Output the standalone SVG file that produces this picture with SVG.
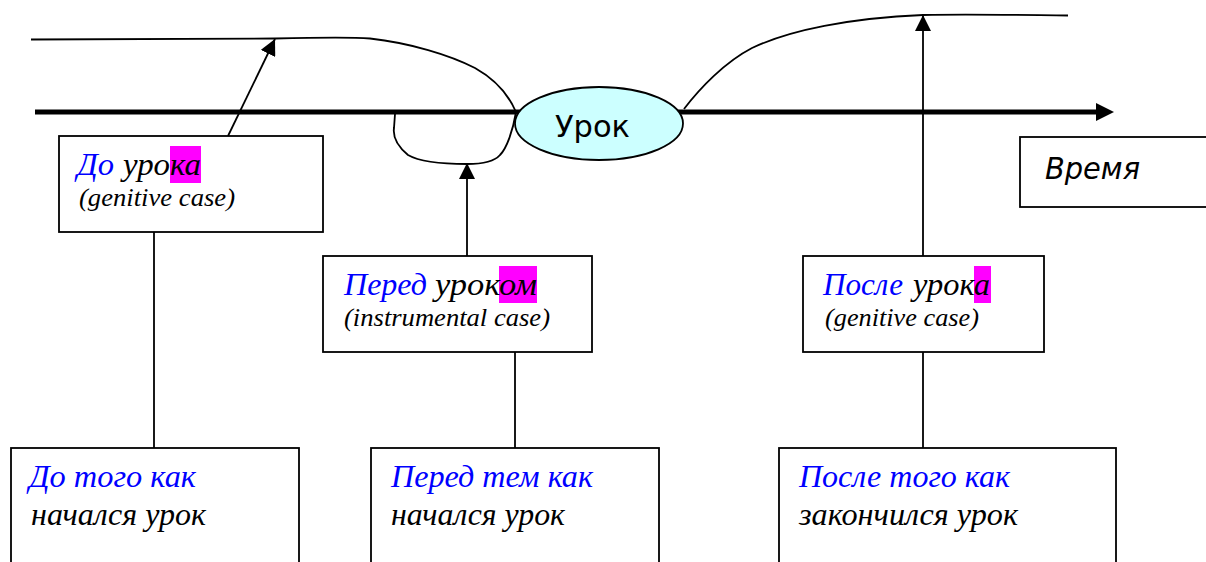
<svg xmlns="http://www.w3.org/2000/svg" width="1206" height="562" viewBox="0 0 1206 562">
<style>
.box{fill:#fff;stroke:#000;stroke-width:1.8}
.ln{fill:none;stroke:#000;stroke-width:1.8}
.axis{fill:none;stroke:#000;stroke-width:5}
.ser{font-family:"Liberation Serif","Times New Roman",serif;font-style:italic}
.big{font-size:32px}
.sub{font-size:26px}
.blue{fill:#0000ff}
.blk{fill:#000}
.hl{fill:#ff00ff}
.sans{font-family:"DejaVu Sans",Verdana,sans-serif;fill:#000}
</style>
<defs>
<marker id="ah" viewBox="0 0 16 16" refX="16" refY="8" markerWidth="16" markerHeight="16" markerUnits="userSpaceOnUse" orient="auto">
<path d="M0,0 L16,8 L0,16 z" fill="#000"/>
</marker>
</defs>
<rect width="1206" height="562" fill="#fff"/>
<g id="connectors">
<line class="axis" x1="35" y1="112" x2="1098" y2="112"/>
<polygon points="1096,103 1114,112 1096,121" fill="#000"/>
<path class="ln" d="M31,39.5 L275,38.5 C320,37.5 350,37 370,38.5 C410,43 450,55 475,68 C500,82 510,98 516,112 C513,130 507,148 500,155 C494,162 482,164 467,164 C445,164 420,162 408,155 C396,145 393,135 394,128 L395,114"/>
<path class="ln" d="M684,109 C700,88 725,62 752,48 C790,30 850,18 923,15 C970,14 1020,15 1068,15.5"/>
<line class="ln" x1="228" y1="136" x2="275" y2="39" marker-end="url(#ah)"/>
<line class="ln" x1="467" y1="256" x2="467" y2="163" marker-end="url(#ah)"/>
<line class="ln" x1="923" y1="256" x2="923" y2="15" marker-end="url(#ah)"/>
<line class="ln" x1="154" y1="232" x2="154" y2="448"/>
<line class="ln" x1="515" y1="352" x2="515" y2="448"/>
<line class="ln" x1="923" y1="352" x2="923" y2="448"/>
</g>
<g id="lesson">
<ellipse cx="599" cy="123.5" rx="84" ry="36.5" fill="#ccffff" stroke="#000" stroke-width="1.8"/>
<text class="sans" x="555" y="137" font-size="31" textLength="75" lengthAdjust="spacingAndGlyphs">Урок</text>
</g>
<g id="time">
<rect class="box" x="1020" y="137" width="200" height="70"/>
<text class="sans" x="1045" y="179" font-size="30" font-style="italic" textLength="95" lengthAdjust="spacingAndGlyphs">Время</text>
</g>
<g id="do-uroka">
<rect class="box" x="59" y="136" width="264" height="96"/>
<rect class="hl" x="170" y="146" width="31" height="37"/>
<text class="ser big blue" x="77" y="175" textLength="37" lengthAdjust="spacingAndGlyphs">До</text>
<text class="ser big blk" x="123" y="175" textLength="78" lengthAdjust="spacingAndGlyphs">урока</text>
<text class="ser sub blk" x="79" y="206" textLength="156" lengthAdjust="spacingAndGlyphs">(genitive case)</text>
</g>
<g id="pered-urokom">
<rect class="box" x="323" y="256" width="269" height="96"/>
<rect class="hl" x="499" y="266" width="38" height="37"/>
<text class="ser big blue" x="344" y="295" textLength="83" lengthAdjust="spacingAndGlyphs">Перед</text>
<text class="ser big blk" x="435" y="295" textLength="102" lengthAdjust="spacingAndGlyphs">уроком</text>
<text class="ser sub blk" x="344" y="326" textLength="206" lengthAdjust="spacingAndGlyphs">(instrumental case)</text>
</g>
<g id="posle-uroka">
<rect class="box" x="803" y="256" width="241" height="96"/>
<rect class="hl" x="974" y="266" width="17" height="37"/>
<text class="ser big blue" x="823" y="295" textLength="80" lengthAdjust="spacingAndGlyphs">После</text>
<text class="ser big blk" x="913" y="295" textLength="77" lengthAdjust="spacingAndGlyphs">урока</text>
<text class="ser sub blk" x="825" y="326" textLength="154" lengthAdjust="spacingAndGlyphs">(genitive case)</text>
</g>
<g id="do-togo-kak">
<rect class="box" x="11" y="448" width="288" height="140"/>
<text class="ser big blue" x="29" y="487" textLength="167" lengthAdjust="spacingAndGlyphs">До того как</text>
<text class="ser big blk" x="31" y="525" textLength="175" lengthAdjust="spacingAndGlyphs">начался урок</text>
</g>
<g id="pered-tem-kak">
<rect class="box" x="371" y="448" width="288" height="140"/>
<text class="ser big blue" x="391" y="487" textLength="202" lengthAdjust="spacingAndGlyphs">Перед тем как</text>
<text class="ser big blk" x="391" y="525" textLength="174" lengthAdjust="spacingAndGlyphs">начался урок</text>
</g>
<g id="posle-togo-kak">
<rect class="box" x="779" y="448" width="337" height="140"/>
<text class="ser big blue" x="799" y="487" textLength="211" lengthAdjust="spacingAndGlyphs">После того как</text>
<text class="ser big blk" x="799" y="525" textLength="219" lengthAdjust="spacingAndGlyphs">закончился урок</text>
</g>
</svg>
